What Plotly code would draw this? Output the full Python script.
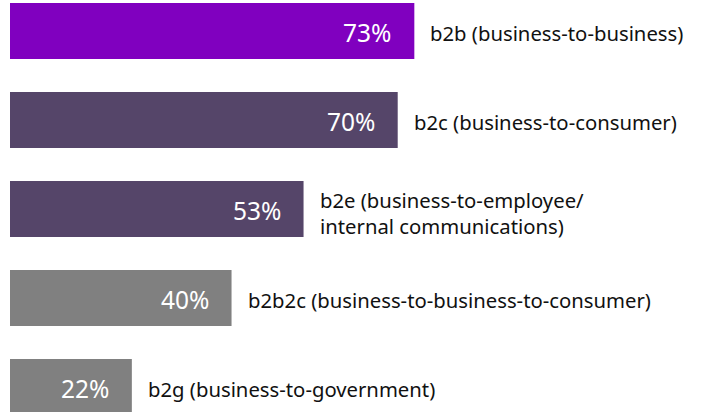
import plotly.graph_objects as go

categories = [
    "b2b (business-to-business)",
    "b2c (business-to-consumer)",
    "b2e (business-to-employee/<br>internal communications)",
    "b2b2c (business-to-business-to-consumer)",
    "b2g (business-to-government)",
]
values = [73, 70, 53, 40, 22]
colors = ["#8000BF", "#554569", "#554569", "#808080", "#808080"]

positions = list(range(len(categories)))

fig = go.Figure()
fig.add_trace(go.Bar(
    x=values,
    y=positions,
    orientation="h",
    marker=dict(color=colors, line=dict(width=0)),
    width=0.63,
    hoverinfo="skip",
))

annotations = []
for p, v, c in zip(positions, values, categories):
    annotations.append(dict(
        x=v, y=p, xref="x", yref="y", text=f"{v}%",
        showarrow=False, xanchor="right", yanchor="middle",
        xshift=-21, yshift=-2,
        font=dict(family="Noto Sans", size=24.5, color="white"),
    ))
    multi = "<br>" in c
    annotations.append(dict(
        x=v, y=p, xref="x", yref="y", text=c,
        showarrow=False, xanchor="left", yanchor="middle", align="left",
        xshift=14, yshift=-4 if multi else -2,
        font=dict(family="Noto Sans", size=20.3, color="#111111"),
    ))

fig.update_layout(
    width=704, height=412,
    margin=dict(l=10, r=0, t=0, b=0),
    paper_bgcolor="white", plot_bgcolor="white",
    showlegend=False,
    hovermode=False,
    xaxis=dict(range=[0, 125.3], visible=False, fixedrange=True),
    yaxis=dict(range=[4.281, -0.348], visible=False, fixedrange=True),
    annotations=annotations,
)

# remove the default 8px page margin so the figure fills the window exactly
fig.write_html(
    "out.html",
    config={"displayModeBar": False, "staticPlot": True},
    post_script="document.body.style.margin='0';document.body.style.overflow='hidden';",
)
